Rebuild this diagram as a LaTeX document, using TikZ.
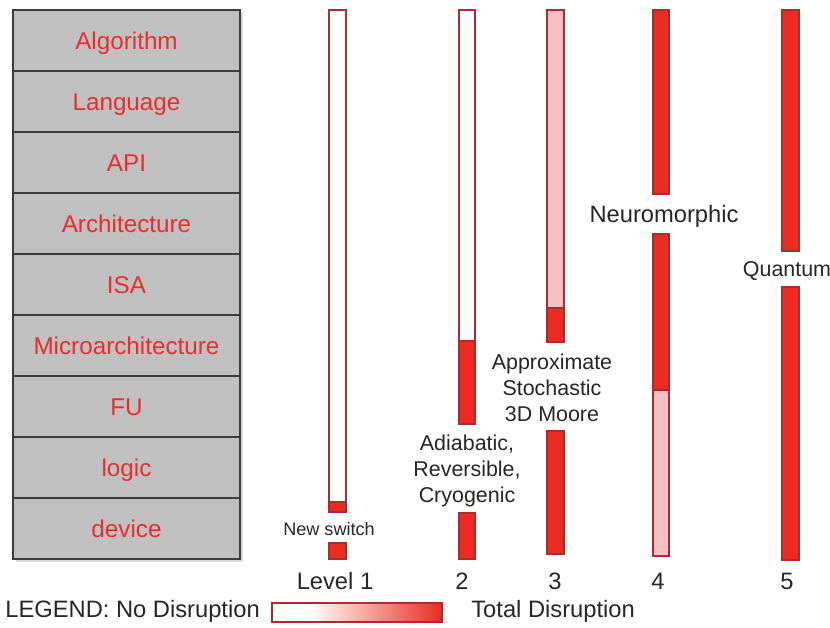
\documentclass[tikz,border=0pt]{standalone}
\usepackage{fontspec}
\setmainfont{Liberation Sans}
\usepackage{xcolor}
\usepackage{tikz}
\usetikzlibrary{positioning,shadows}

\definecolor{layergray}{RGB}{192,192,192}
\definecolor{layeredge}{RGB}{60,60,60}
\definecolor{layertext}{RGB}{236,44,44}
\definecolor{barred}{RGB}{236,43,35}
\definecolor{barpink}{RGB}{247,192,192}
\definecolor{baredge}{RGB}{170,45,45}
\definecolor{labeltext}{RGB}{38,38,38}

\pgfdeclarehorizontalshading{fadetored}{100bp}{color(0bp)=(white); color(36bp)=(white); color(75bp)=(barred); color(100bp)=(barred)}

\tikzset{
  layer/.style={draw=layeredge, fill=layergray, line width=0.8pt, minimum width=4.54cm, minimum height=1.22cm,
    inner sep=0pt, outer sep=0pt, text=layertext, font=\fontsize{13.8}{16}\selectfont,
    text height=9.9pt, text depth=0pt,
    drop shadow={shadow xshift=1.5pt, shadow yshift=-1.5pt, opacity=0.3}},
  bar/.style={draw=baredge, line width=0.6pt},
  tag/.style={text=labeltext, align=center, inner sep=0pt, font=\fontsize{12.2}{14.8}\selectfont},
  big/.style={tag, font=\fontsize{13.5}{16}\selectfont},
}

\begin{document}
\begin{tikzpicture}[x=0.02cm, y=-0.02cm]
  \useasboundingbox (0,0) rectangle (830,627);

  % abstraction layers
  \node[layer] (alg) at (126.5,40.5) {Algorithm};
  \node[layer, below=0pt of alg] (lang) {Language};
  \node[layer, below=0pt of lang] (api) {API};
  \node[layer, below=0pt of api] (arch) {Architecture};
  \node[layer, below=0pt of arch] (isa) {ISA};
  \node[layer, below=0pt of isa] (march) {Microarchitecture};
  \node[layer, below=0pt of march] (fu) {FU};
  \node[layer, below=0pt of fu] (logic) {logic};
  \node[layer, below=0pt of logic] (dev) {device};

  % level 1
  \draw[bar, fill=white] (329,10) rectangle (346,512);
  \draw[bar, fill=barred] (329,502) rectangle (346,512);
  \node[tag, font=\fontsize{10.3}{12}\selectfont] (newsw) at (329,529) {New switch};
  \draw[bar, fill=barred] (329,543) rectangle (346,559);

  % level 2
  \draw[bar, fill=white] (459,10) rectangle (475,341);
  \draw[bar, fill=barred] (459,341) rectangle (475,424);
  \node[tag] (adiab) at (467,471) {Adiabatic,\\Reversible,\\Cryogenic};
  \draw[bar, fill=barred] (459,513) rectangle (475,559);

  % level 3
  \draw[bar, fill=barpink] (547,10) rectangle (564,308);
  \draw[bar, fill=barred] (547,308) rectangle (564,342);
  \node[tag] (approx) at (552,388) {Approximate\\Stochastic\\3D Moore};
  \draw[bar, fill=barred] (547,431) rectangle (564,554);

  % level 4
  \draw[bar, fill=barred] (653,10) rectangle (669,194);
  \node[big] (neuro) at (664,216) {Neuromorphic};
  \draw[bar, fill=barred] (653,234) rectangle (669,390);
  \draw[bar, fill=barpink] (653,390) rectangle (669,556);

  % level 5
  \draw[bar, fill=barred] (782,10) rectangle (799,251);
  \node[tag] (quant) at (787,271) {Quantum};
  \draw[bar, fill=barred] (782,287) rectangle (799,560);

  % level numbers
  \node[big] (lvl1) at (335,581) {Level 1};
  \node[big] (lvl2) at (462,581) {2};
  \node[big] (lvl3) at (555,581) {3};
  \node[big] (lvl4) at (658,581) {4};
  \node[big] (lvl5) at (787,581) {5};

  % legend
  \node[big, anchor=west] (legend) at (5,611) {LEGEND: No Disruption};
  \shade[shading=fadetored] (272,603) rectangle (442,622);
  \draw[bar] (272,603) rectangle (442,622);
  \node[big, anchor=west] (total) at (471,611) {Total Disruption};
\end{tikzpicture}
\end{document}
